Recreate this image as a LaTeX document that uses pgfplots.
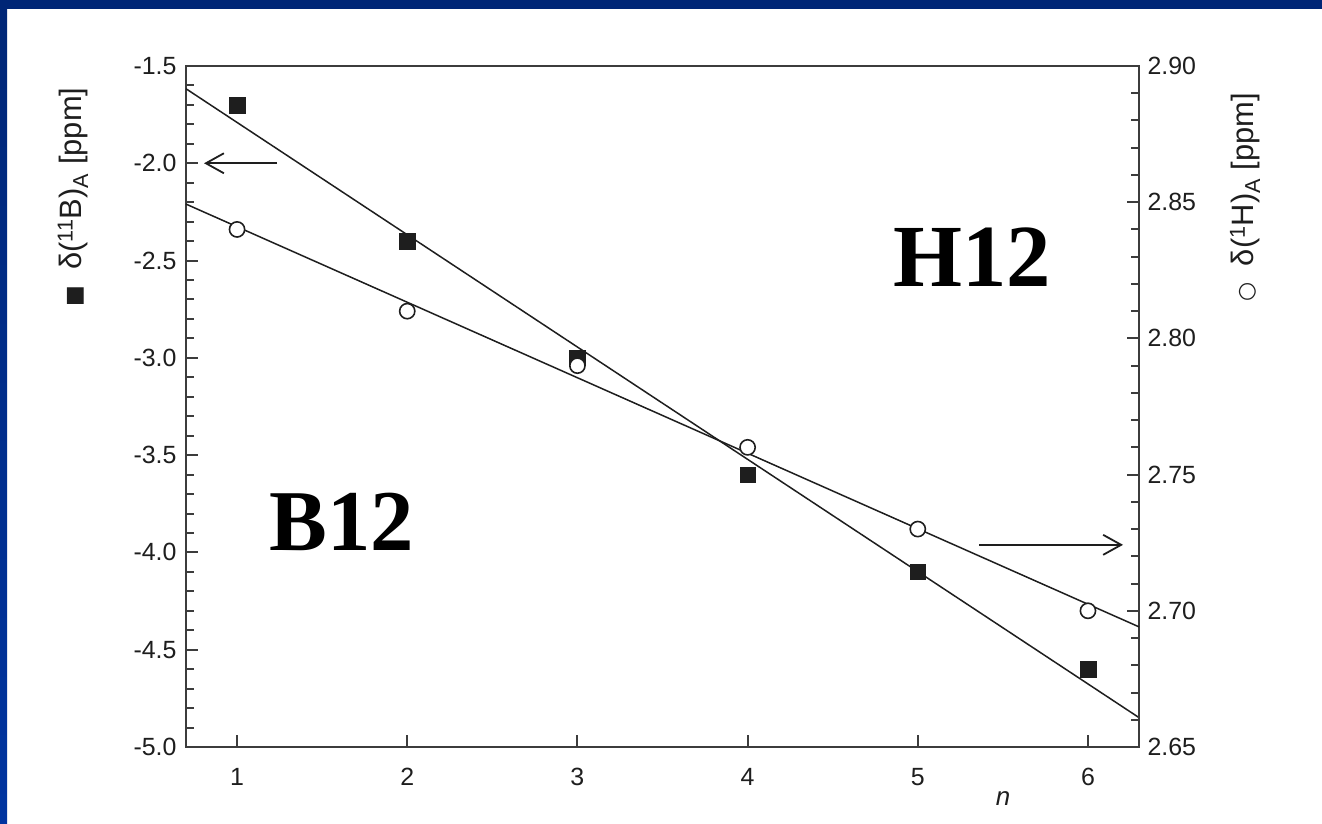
\documentclass[border=0pt]{standalone}
\usepackage{fontspec}
\setmainfont{Liberation Sans}
\newfontfamily\bigserif{Liberation Serif}
\newfontfamily\symfont{DejaVu Sans}
\usepackage{pgfplots}
\pgfplotsset{compat=1.18}
\usetikzlibrary{arrows.meta}
\definecolor{navytop}{RGB}{0,38,118}
\definecolor{navybot}{RGB}{0,52,160}
\definecolor{ink}{RGB}{30,30,30}
\definecolor{axisgray}{RGB}{60,60,60}

\pgfplotstableread{
n B
1 -1.7
2 -2.4
3 -3.0
4 -3.6
5 -4.1
6 -4.6
}\Bdata
\pgfplotstableread{
n H
1 2.84
2 2.81
3 2.79
4 2.76
5 2.73
6 2.70
}\Hdata

\begin{document}
\begin{tikzpicture}[x=1bp,y=1bp]
\useasboundingbox (0,0) rectangle (1322,823);
\fill[white] (0,0) rectangle (1322,823);
\shade[top color=navytop, bottom color=navybot] (0,0) rectangle (7,823);
\fill[navytop] (0,814) rectangle (1322,823);

\pgfplotsset{
  common/.style={
    at={(186bp,76bp)}, anchor=south west, scale only axis,
    width=953bp, height=681bp,
    xmin=0.7, xmax=6.3,
    tick align=inside,
    major tick length=12bp, minor tick length=8bp,
    axis line style={line width=2bp, axisgray},
    every tick/.style={line width=2bp, axisgray},
    tick label style={font=\fontsize{25}{28}\selectfont, text=ink},
    /pgf/number format/assume math mode=true,
    clip=false,
  }
}

\begin{axis}[common,
  ymin=-5, ymax=-1.5,
  xtick={1,2,3,4,5,6},
  ytick={-5,-4.5,-4,-3.5,-3,-2.5,-2,-1.5},
  minor y tick num=4,
  xtick pos=bottom, ytick pos=left,
  yticklabel style={/pgf/number format/fixed, /pgf/number format/fixed zerofill, /pgf/number format/precision=1, xshift=-6bp},
  xticklabel style={yshift=-18bp},
]
\addplot[ink, line width=1.5bp] coordinates {(0.7,-1.617) (6.3,-4.849)};
\addplot[only marks, mark=square*, mark size=7.8bp, ink] table[x=n, y=B] {\Bdata};
\draw[ink, line width=1.8bp, -{Straight Barb[length=18bp, width=20bp, line width=1.8bp]}] (axis cs:1.235,-2.0) -- (axis cs:0.806,-2.0);
\draw[ink, line width=1.8bp, -{Straight Barb[length=18bp, width=20bp, line width=1.8bp]}] (axis cs:5.36,-3.961) -- (axis cs:6.206,-3.961);
\node[font=\bigserif\bfseries\fontsize{87}{90}\selectfont, text=black] at (axis cs:1.617,-3.843) {B12};
\node[font=\bigserif\bfseries\fontsize{89}{92}\selectfont, text=black] at (axis cs:5.32,-2.48) {H12};
\end{axis}

\begin{axis}[common,
  ymin=2.65, ymax=2.90,
  axis x line=none, axis y line*=right,
  ytick={2.65,2.70,2.75,2.80,2.85,2.90},
  minor y tick num=4,
  yticklabel style={/pgf/number format/fixed, /pgf/number format/fixed zerofill, /pgf/number format/precision=2, xshift=5bp},
]
\addplot[ink, line width=1.5bp] coordinates {(0.7,2.8493) (6.3,2.6941)};
\addplot[only marks, mark=*, mark size=7.6bp, ink, line width=1.6bp, fill=white] table[x=n, y=H] {\Hdata};
\end{axis}

\node[rotate=90, font=\fontsize{31}{34}\selectfont, text=ink] at (73,626) {{\symfont\fontsize{22}{24}\selectfont ■}\hspace{16bp}δ(\textsuperscript{11}B)\textsubscript{A} [ppm]};
\node[rotate=90, font=\fontsize{31}{34}\selectfont, text=ink] at (1245,626) {{\symfont\fontsize{22}{24}\selectfont ○}\hspace{16bp}δ(\textsuperscript{1}H)\textsubscript{A} [ppm]};
\node[font=\itshape\fontsize{26}{28}\selectfont, text=ink] at (1003,24) {n};
\end{tikzpicture}
\end{document}
